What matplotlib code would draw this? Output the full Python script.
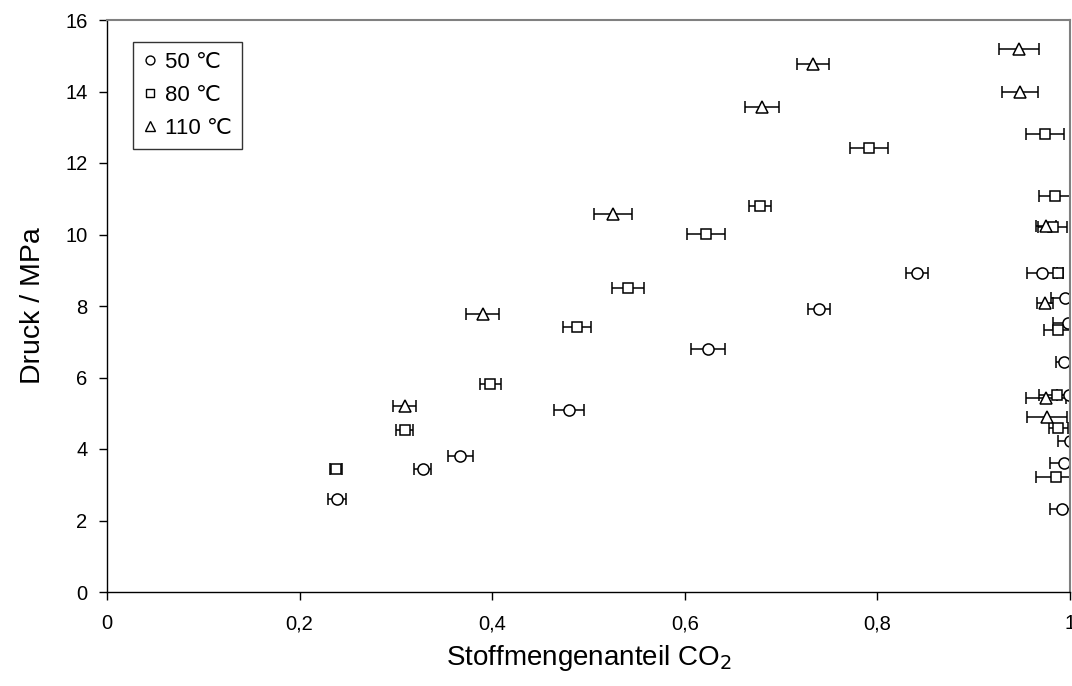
import matplotlib
matplotlib.use("Agg")
import matplotlib.pyplot as plt
from matplotlib.lines import Line2D

plt.rcParams['font.family'] = ['Liberation Sans', 'DejaVu Sans']

# 50 °C (circles)
x50 = [0.239, 0.328, 0.367, 0.480, 0.624, 0.739, 0.841, 0.992, 0.994, 1.000, 0.999, 0.994, 0.998, 0.995, 0.971]
p50 = [2.60, 3.44, 3.80, 5.09, 6.80, 7.92, 8.92, 2.33, 3.62, 4.23, 5.52, 6.43, 7.52, 8.22, 8.92]
e50 = [0.0095, 0.0087, 0.0133, 0.0156, 0.018, 0.0115, 0.0116, 0.013, 0.015, 0.012, 0.012, 0.009, 0.016, 0.015, 0.016]

# 80 °C (squares)
x80 = [0.238, 0.309, 0.398, 0.488, 0.541, 0.622, 0.678, 0.791, 0.974, 0.984, 0.982, 0.988, 0.988, 0.986, 0.988, 0.985]
p80 = [3.44, 4.53, 5.82, 7.41, 8.50, 10.01, 10.80, 12.42, 12.80, 11.08, 10.20, 8.92, 7.32, 5.52, 4.60, 3.22]
e80 = [0.006, 0.009, 0.011, 0.0145, 0.0166, 0.0197, 0.011, 0.0197, 0.020, 0.016, 0.015, 0.005, 0.015, 0.018, 0.010, 0.020]

# 110 °C (triangles)
x110 = [0.309, 0.390, 0.525, 0.680, 0.733, 0.947, 0.948, 0.975, 0.974, 0.975, 0.976]
p110 = [5.20, 7.78, 10.58, 13.56, 14.76, 15.18, 14.00, 10.25, 8.08, 5.42, 4.90]
e110 = [0.012, 0.017, 0.0197, 0.0175, 0.0168, 0.021, 0.019, 0.010, 0.008, 0.021, 0.021]

labels = ["50 \u2103", "80 \u2103", "110 \u2103"]
xticks = [0, 0.2, 0.4, 0.6, 0.8, 1.0]
xticklabels = ["0", "0,2", "0,4", "0,6", "0,8", "1"]
yticks = [0, 2, 4, 6, 8, 10, 12, 14, 16]

fig = plt.figure(figsize=(10.72, 6.86), dpi=100)
ax = fig.add_axes([107/1072, 94/686, 963/1072, 572/686])

series = [(x50, p50, e50, 'o', 8), (x80, p80, e80, 's', 7.5), (x110, p110, e110, '^', 9)]
handles = []
for (xs, ps, es, m, ms), lab in zip(series, labels):
    ax.errorbar(xs, ps, xerr=es, fmt=m, ms=ms, mfc='white', mec='black', mew=1.1,
                ecolor='black', elinewidth=1.1, capsize=4.2, capthick=1.1)
    handles.append(Line2D([], [], ls='none', marker=m, ms=ms * 0.8, mfc='white',
                          mec='black', mew=1.0, label=lab))

ax.set_xlim(0, 1)
ax.set_ylim(0, 16)
ax.set_xticks(xticks)
ax.set_xticklabels(xticklabels)
ax.set_yticks(yticks)
ax.tick_params(axis='both', direction='out', length=6, width=1, labelsize=14.5, colors='black')
ax.tick_params(axis='x', pad=10)
ax.tick_params(axis='y', pad=8)

for s in ['left', 'bottom']:
    ax.spines[s].set_color('black')
    ax.spines[s].set_linewidth(1.0)
for s in ['top', 'right']:
    ax.spines[s].set_color('#808080')
    ax.spines[s].set_linewidth(1.5)

ax.set_xlabel("Stoffmengenanteil CO$_2$", fontsize=20, labelpad=7)
ax.set_ylabel("Druck / MPa", fontsize=20.5, labelpad=14)

leg = ax.legend(handles=handles, loc='upper left', bbox_to_anchor=(0.027, 0.962),
                fontsize=16, frameon=True, fancybox=False, edgecolor='black',
                handlelength=0.6, handletextpad=0.4, borderpad=0.45, labelspacing=0.55,
                borderaxespad=0)
leg.get_frame().set_linewidth(1.0)

fig.savefig("out.png", dpi=100)
